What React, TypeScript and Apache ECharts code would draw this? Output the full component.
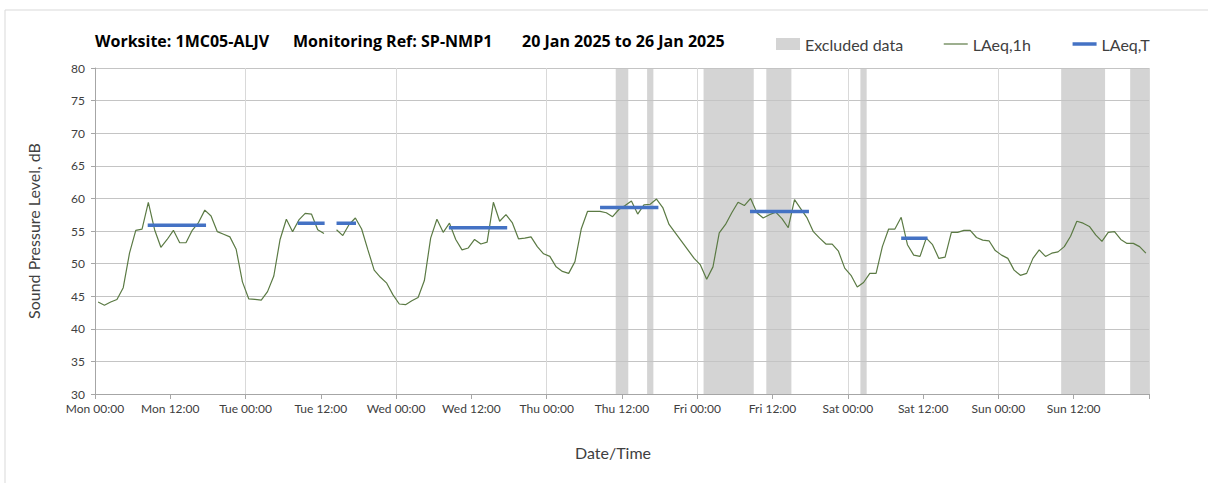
import React, { useEffect, useRef } from "react";
import * as echarts from "echarts";

// Hourly LAeq,1h values (Mon 00:00 .. Sun 23:00), null = no data
const laeq1h: (number | null)[] = [
  44.1, 43.6, 44.1, 44.5, 46.3, 51.6, 55.1, 55.3, 59.4, 55.2,
  52.5, 53.7, 55.1, 53.2, 53.2, 55.1, 56.3, 58.2, 57.3, 54.9,
  54.5, 54.1, 52.2, 47.2, 44.6, 44.5, 44.4, 45.7, 48.1, 53.7,
  56.8, 54.9, 56.7, 57.7, 57.6, 55.2, 54.6, null, 55.2, 54.3,
  56.0, 57.0, 55.3, 52.1, 49.0, 47.9, 47.0, 45.2, 43.8, 43.7,
  44.3, 44.8, 47.4, 53.9, 56.8, 54.8, 56.2, 53.7, 52.1, 52.4,
  53.7, 53.0, 53.3, 59.4, 56.5, 57.5, 56.3, 53.8, 53.9, 54.1,
  52.6, 51.5, 51.1, 49.5, 48.8, 48.5, 50.3, 55.3, 58.0, 58.0,
  58.0, 57.8, 57.2, 58.3, 58.9, 59.6, 57.6, 59.0, 59.1, 59.9,
  58.6, 56.0, 54.7, 53.4, 52.1, 50.8, 49.8, 47.6, 49.5, 54.7,
  56.0, 57.8, 59.4, 58.9, 60.0, 57.8, 57.0, 57.5, 57.9, 56.9,
  55.5, 59.8, 58.4, 57.0, 54.9, 53.9, 53.0, 53.0, 51.9, 49.3,
  48.2, 46.4, 47.1, 48.5, 48.5, 52.6, 55.3, 55.3, 57.1, 52.9,
  51.3, 51.1, 53.9, 52.9, 50.8, 51.0, 54.8, 54.8, 55.1, 55.1,
  54.0, 53.6, 53.5, 52.0, 51.3, 50.8, 49.0, 48.2, 48.5, 50.8,
  52.1, 51.1, 51.6, 51.8, 52.6, 54.2, 56.5, 56.2, 55.7, 54.4,
  53.4, 54.8, 54.9, 53.7, 53.1, 53.1, 52.6, 51.6,
];

// Excluded data periods (hours from Mon 00:00)
const excludedStart = [83, 88, 97, 107, 122, 154, 165];
const excludedEnd = [85, 89, 105, 111, 123, 161, 168];

// LAeq,T periods (hours from Mon 00:00) and levels
const laeqTStart = [8.4, 32.3, 38.5, 56.4, 80.5, 104.4, 128.5];
const laeqTEnd = [17.7, 36.6, 41.6, 65.7, 89.8, 113.8, 132.7];
const laeqTLevel = [55.9, 56.2, 56.2, 55.5, 58.6, 58.0, 53.9];

const dayNames = ["Mon", "Tue", "Wed", "Thu", "Fri", "Sat", "Sun"];
const yMin = 30;
const yMax = 80;
const xMax = 168;

const FONT = "Lato, 'Open Sans', sans-serif";
const WIDE = "'Open Sans', Lato, sans-serif";

export default function App() {
  const ref = useRef<HTMLDivElement>(null);

  useEffect(() => {
    if (!ref.current) return;
    const chart = echarts.init(ref.current, undefined, { renderer: "svg" });

    const lineData = laeq1h.map((v, i) => [i + 0.5, v]);
    const bandData = excludedStart.map((s, i) => [s, excludedEnd[i]]);

    const tSeries = laeqTStart.map((s, i) => ({
      name: "LAeq,T",
      type: "line",
      symbol: "none",
      silent: true,
      z: 4,
      lineStyle: { color: "#4472c4", width: 3.5 },
      itemStyle: { color: "#4472c4" },
      data: [
        [s, laeqTLevel[i]],
        [laeqTEnd[i], laeqTLevel[i]],
      ],
    }));

    chart.setOption({
      animation: false,
      textStyle: { fontFamily: FONT },
      graphic: [
        {
          type: "rect",
          shape: { x: 5, y: 10, width: 1230, height: 500 },
          style: { fill: "none", stroke: "#d9d9d9", lineWidth: 1 },
          silent: true,
        },
        {
          type: "text",
          left: 95,
          top: 33,
          style: { text: "Worksite: 1MC05-ALJV", font: `bold 16px ${WIDE}`, fill: "#000" },
        },
        {
          type: "text",
          left: 293,
          top: 33,
          style: { text: "Monitoring Ref: SP-NMP1", font: `bold 16px ${WIDE}`, fill: "#000" },
        },
        {
          type: "text",
          left: 522,
          top: 33,
          style: { text: "20 Jan 2025 to 26 Jan 2025", font: `bold 16px ${WIDE}`, fill: "#000" },
        },
      ],
      legend: {
        left: 771,
        top: 31,
        itemWidth: 24,
        itemHeight: 12,
        itemGap: 40,
        textStyle: { fontSize: 16, color: "#404040", fontFamily: FONT },
        data: [
          { name: "Excluded data", icon: "rect", itemStyle: { opacity: 1 } },
          { name: "LAeq,1h", itemStyle: { opacity: 0 }, lineStyle: { width: 1.2, color: "#5b7a44" } },
          { name: "LAeq,T", itemStyle: { opacity: 0 }, lineStyle: { width: 3.5, color: "#4472c4" } },
        ],
      },
      grid: { left: 95, top: 68, width: 1054, height: 326 },
      xAxis: [
        {
          type: "value",
          min: 0,
          max: xMax,
          interval: 12,
          name: "Date/Time",
          nameLocation: "middle",
          nameGap: 50,
          nameTextStyle: { fontSize: 16, color: "#404040", padding: [0, 18, 0, 0] },
          axisLine: { show: true, lineStyle: { color: "#a6a6a6" } },
          axisTick: { show: true, length: 5, lineStyle: { color: "#a6a6a6" } },
          axisLabel: {
            fontSize: 12,
            color: "#404040",
            margin: 8,
            formatter: (v: number) => {
              if (v >= xMax) return "";
              const d = Math.floor(v / 24);
              const h = v % 24 === 0 ? "00:00" : "12:00";
              return `${dayNames[d]} ${h}`;
            },
          },
          splitLine: { show: false },
        },
        {
          type: "value",
          min: 0,
          max: xMax,
          interval: 24,
          position: "bottom",
          axisLine: { show: false },
          axisTick: { show: false },
          axisLabel: { show: false },
          splitLine: { show: true, lineStyle: { color: "#d9d9d9", width: 1 } },
        },
      ],
      yAxis: {
        type: "value",
        min: yMin,
        max: yMax,
        interval: 5,
        name: "Sound Pressure Level, dB",
        nameLocation: "middle",
        nameGap: 54,
        nameTextStyle: { fontSize: 16, color: "#404040" },
        axisLine: { show: true, lineStyle: { color: "#a6a6a6" } },
        axisTick: { show: true, length: 4, lineStyle: { color: "#a6a6a6" } },
        axisLabel: { fontSize: 12, color: "#404040", margin: 10 },
        splitLine: { show: true, lineStyle: { color: "#c4c4c4", width: 1 } },
      },
      series: [
        {
          name: "Excluded data",
          type: "custom",
          z: -1,
          silent: true,
          itemStyle: { color: "#d4d4d4" },
          encode: { x: [0, 1] },
          renderItem: (_p: any, api: any) => {
            const a = api.coord([api.value(0), yMax]);
            const b = api.coord([api.value(1), yMin]);
            return {
              type: "rect",
              shape: { x: a[0], y: a[1], width: b[0] - a[0], height: b[1] - a[1] },
              style: { fill: "#d4d4d4" },
            };
          },
          data: bandData,
        },
        {
          name: "LAeq,1h",
          type: "line",
          symbol: "none",
          silent: true,
          z: 3,
          connectNulls: false,
          lineStyle: { color: "#5b7a44", width: 1.2 },
          itemStyle: { color: "#5b7a44" },
          data: lineData,
        },
        ...tSeries,
      ],
    });

    return () => chart.dispose();
  }, []);

  return (
    <div
      ref={ref}
      style={{ position: "absolute", left: 0, top: 0, width: 1208, height: 483, background: "#fff" }}
    />
  );
}
